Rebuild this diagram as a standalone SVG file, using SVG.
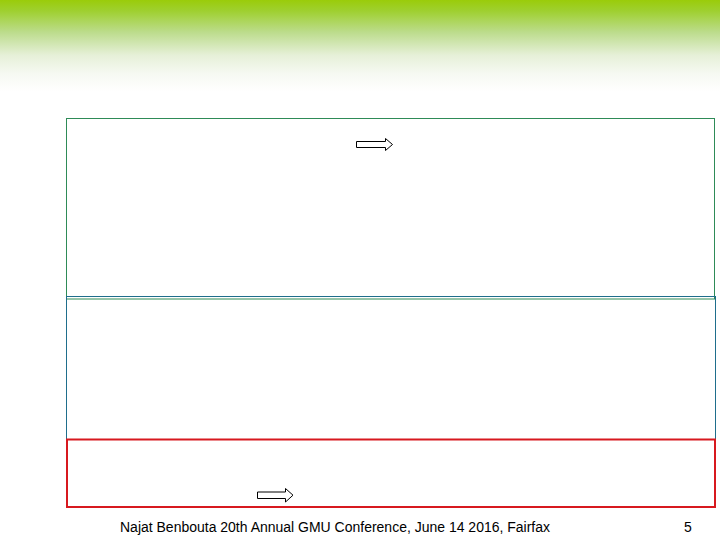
<svg xmlns="http://www.w3.org/2000/svg" width="720" height="540" viewBox="0 0 720 540">
<defs>
<linearGradient id="hdr" x1="0" y1="0" x2="0" y2="1">
<stop offset="0" stop-color="#9acc0a"/>
<stop offset="0.12" stop-color="#9fd030"/>
<stop offset="0.35" stop-color="#bcdc8c"/>
<stop offset="0.6" stop-color="#e6f0d8"/>
<stop offset="0.8" stop-color="#f6f9f2"/>
<stop offset="1" stop-color="#ffffff"/>
</linearGradient>
<style>
.box{fill:none}
.arrow{fill:#fff;stroke:#000;stroke-width:1}
.foot{font-family:"Liberation Sans",Arial,sans-serif;font-size:14px;fill:#000}
</style>
</defs>
<rect x="0" y="0" width="720" height="540" fill="#fff"/>
<rect x="0" y="0" width="720" height="92" fill="url(#hdr)"/>
<g id="box-green"><rect class="box" x="66.5" y="118.5" width="648" height="180.5" stroke="#2e8b57" stroke-width="1"/></g>
<g id="box-blue"><rect class="box" x="66.5" y="296.5" width="649" height="143" stroke="#1f6e8c" stroke-width="1"/></g>
<g id="box-red"><rect class="box" x="67" y="439.5" width="648" height="67.5" stroke="#d7191f" stroke-width="2"/></g>
<g id="connectors">
<path class="arrow" d="M356.5,141.5 H385.5 V138.5 L392.5,144.5 L385.5,150.5 V147.5 H356.5 Z"/>
<path class="arrow" d="M257.5,492 H285.5 V488.5 L293,495.2 L285.5,502 V498.5 H257.5 Z"/>
</g>
<text class="foot" x="120" y="532" textLength="430" lengthAdjust="spacingAndGlyphs">Najat Benbouta 20th Annual GMU Conference, June 14 2016, Fairfax</text>
<text class="foot" x="684" y="532">5</text>
</svg>
